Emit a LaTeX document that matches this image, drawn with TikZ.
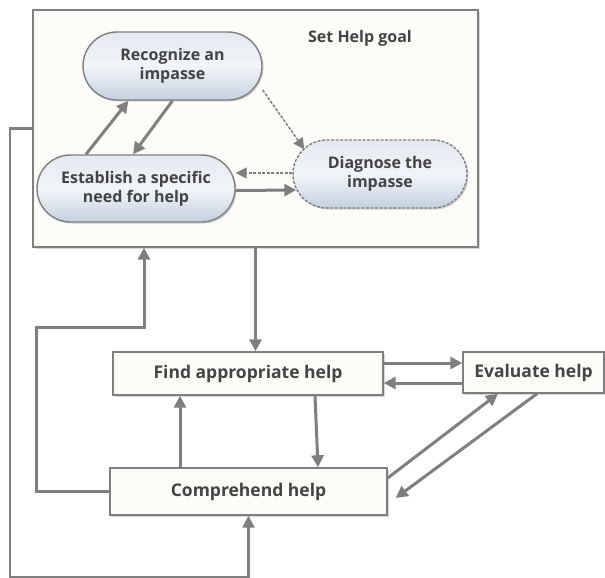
\documentclass[tikz,border=0pt]{standalone}
\usepackage{fontspec}
\setmainfont{Open Sans}
\usetikzlibrary{arrows.meta,shadows,calc}
\definecolor{linegray}{HTML}{7F7F7F}
\definecolor{txtgray}{HTML}{444444}
\definecolor{boxfill}{HTML}{FEFCF8}
\definecolor{capTop}{HTML}{E2E9F0}
\definecolor{capMid}{HTML}{F2F5F8}
\definecolor{capBot}{HTML}{C3D1DF}
\tikzset{
  every node/.style={text=txtgray, align=center, inner sep=0pt},
  captext/.style={font=\bfseries\fontsize{16}{19}\selectfont},
  boxtext/.style={font=\bfseries\fontsize{17.5}{20}\selectfont},
  capsule/.style={captext, draw=linegray, line width=1.4pt, rounded corners=#1, top color=capTop, bottom color=capBot, middle color=capMid,
    drop shadow={shadow xshift=1.5pt, shadow yshift=-1.5pt, fill=black!35}},
  plainbox/.style={boxtext, draw=linegray, line width=1.4pt, fill=boxfill,
    drop shadow={shadow xshift=2pt, shadow yshift=-2pt, fill=black!30}},
  arr/.style={draw=linegray, line width=3pt, -{Triangle[length=12pt,width=12pt]}},
  darr/.style={draw=linegray, line width=1.5pt, dashed, dash pattern=on 3pt off 1.5pt, -{Triangle[length=11pt,width=11pt]}},
  loopline/.style={draw=linegray, line width=2.2pt}
}
\begin{document}
\begin{tikzpicture}[x=1pt,y=-1pt]
\useasboundingbox (0,0) rectangle (605,578);
% big goal box
\node[plainbox, minimum width=445pt, minimum height=237pt] (goal) at (255.5,128.5) {};
\node[captext] (goaltitle) at (360,38) {Set Help goal};
\node[capsule=34pt, minimum width=179pt, minimum height=68pt] (rec) at (172.5,66) {Recognize an\\impasse};
\node[capsule=33.5pt, minimum width=198pt, minimum height=67pt] (est) at (136,188.5) {Establish a specific\\need for help};
\node[capsule=34pt, minimum width=174pt, minimum height=68pt, dashed, dash pattern=on 3pt off 1.5pt] (diag) at (380,174) {Diagnose the\\impasse};
% arrows inside
\draw[arr] ([xshift=-50pt]est.north) -- ([xshift=-44pt]rec.south);
\draw[arr] ([xshift=0pt]rec.south) -- ([xshift=-3pt]est.north);
\draw[darr] ([yshift=-24pt]rec.east) -- ([xshift=12pt,yshift=-10pt]diag.north west);
\draw[darr] ([yshift=1pt]diag.west) -- ([yshift=1pt]diag.west -| est.east);
\draw[arr] ([yshift=-2pt]est.east) -- ([xshift=4pt,yshift=-16pt]diag.west);
% lower boxes
\node[plainbox, minimum width=270pt, minimum height=43pt] (find) at (248,373.5) {Find appropriate help};
\node[plainbox, minimum width=141pt, minimum height=41pt] (eval) at (533.5,372.5) {Evaluate help};
\node[plainbox, minimum width=277pt, minimum height=47pt] (comp) at (248.5,491.5) {Comprehend help};
% lower arrows
\draw[arr] (goal.south) -- (goal.south |- find.north);
\draw[arr] ([xshift=-68.5pt]comp.north) -- ([xshift=-68.5pt]comp.north |- find.south);
\draw[arr] ([xshift=67pt]find.south) -- ([xshift=69.5pt]comp.north);
\draw[arr] ([yshift=10.5pt]find.east) -- ([yshift=10.5pt]find.east -| eval.west);
\draw[arr] ([yshift=-10.5pt]eval.west) -- ([yshift=-10.5pt]eval.west -| find.east);
\draw[arr] ([yshift=13.5pt]comp.east) -- ([xshift=-35.5pt]eval.south);
\draw[arr] ([xshift=3.5pt]eval.south) -- ([xshift=8pt,yshift=-6.5pt]comp.east);
% loops
\coordinate (l1) at (36,327);
\draw[arr] (comp.west) -| (l1) -| ([xshift=-111.5pt]goal.south);
\coordinate (o1) at (10,577);
\draw[loopline, -{Triangle[length=12pt,width=12pt]}] (goal.west) -| (o1) -| (comp.south);
\end{tikzpicture}
\end{document}
